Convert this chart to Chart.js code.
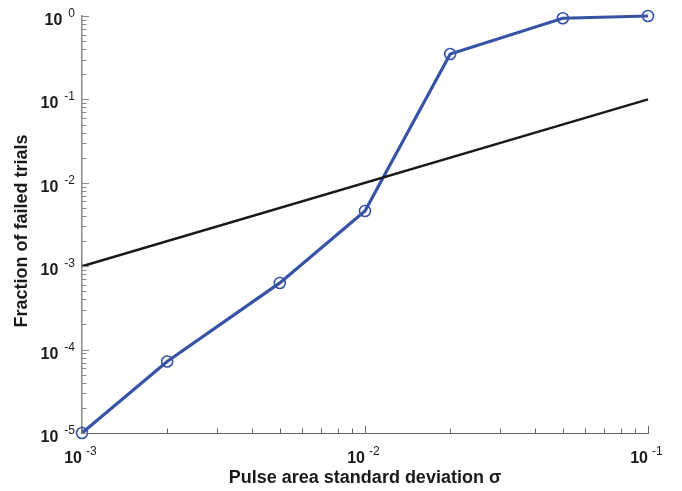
<!DOCTYPE html>
<html>
<head>
<meta charset="utf-8">
<script src="https://cdn.jsdelivr.net/npm/chart.js@4/dist/chart.umd.min.js"></script>
<style>
  html, body { margin: 0; padding: 0; background: #fff; }
  canvas { display: block; }
</style>
</head>
<body>
<canvas id="chart" width="682" height="491"></canvas>
<script>
// Failure fraction vs pulse area standard deviation (log-log)

const sigma = [0.001, 0.002, 0.005, 0.01, 0.02, 0.05, 0.1];
const failFrac = [1.0e-5, 7.2e-5, 6.3e-4, 4.6e-3, 0.35, 0.94, 1.0];

// reference line y = sigma
const refX = [0.001, 0.1];
const refY = [0.001, 0.1];

const xExponents = [-3, -2, -1];
const yExponents = [-5, -4, -3, -2, -1, 0];

const xTitle = 'Pulse area standard deviation σ';
const yTitle = 'Fraction of failed trials';

const BLUE = '#3753a6';
const FONT = '"Liberation Sans", Arial, sans-serif';

function toPoints(xs, ys) {
  return xs.map((x, i) => ({ x: x, y: ys[i] }));
}

// ticks pointing inward + "10^k" labels + axis titles
const axisDecor = {
  id: 'axisDecor',
  afterDraw(chart) {
    const ctx = chart.ctx;
    const area = chart.chartArea;
    const xs = chart.scales.x;
    const ys = chart.scales.y;
    ctx.save();

    // y ticks
    ctx.strokeStyle = '#8a8a8a';
    ctx.lineWidth = 1;
    for (let k = yExponents[0]; k <= yExponents[yExponents.length - 1]; k++) {
      for (let m = 1; m <= 9; m++) {
        if (k === yExponents[yExponents.length - 1] && m > 1) break;
        const py = Math.round(ys.getPixelForValue(m * Math.pow(10, k))) + 0.5;
        const len = m === 1 ? 7 : 4.5;
        ctx.beginPath();
        ctx.moveTo(area.left, py);
        ctx.lineTo(area.left + len, py);
        ctx.stroke();
      }
    }
    // x ticks
    ctx.strokeStyle = '#666';
    for (let k = xExponents[0]; k <= xExponents[xExponents.length - 1]; k++) {
      for (let m = 1; m <= 9; m++) {
        if (k === xExponents[xExponents.length - 1] && m > 1) break;
        const px = Math.round(xs.getPixelForValue(m * Math.pow(10, k))) + 0.5;
        const len = m === 1 ? 7 : 4.5;
        ctx.beginPath();
        ctx.moveTo(px, area.bottom);
        ctx.lineTo(px, area.bottom - len);
        ctx.stroke();
      }
    }

    ctx.fillStyle = '#1a1a1a';
    ctx.textBaseline = 'alphabetic';

    // y labels
    yExponents.forEach(k => {
      const py = ys.getPixelForValue(Math.pow(10, k));
      const exp = String(k);
      ctx.font = '12px ' + FONT;
      const ew = ctx.measureText(exp).width;
      const expRight = area.left - 7;
      ctx.textAlign = 'left';
      ctx.fillText(exp, expRight - ew, py + 1);
      ctx.font = 'bold 16px ' + FONT;
      ctx.textAlign = 'right';
      ctx.fillText('10', expRight - ew - 6, py + 9);
    });

    // x labels
    xExponents.forEach(k => {
      const px = xs.getPixelForValue(Math.pow(10, k));
      ctx.font = 'bold 16px ' + FONT;
      ctx.textAlign = 'right';
      ctx.fillText('10', px, area.bottom + 30);
      ctx.font = '12px ' + FONT;
      ctx.textAlign = 'left';
      ctx.fillText(String(k), px + 4, area.bottom + 22);
    });

    // titles
    ctx.font = 'bold 18px ' + FONT;
    ctx.textAlign = 'center';
    ctx.textBaseline = 'middle';
    ctx.fillText(xTitle, (area.left + area.right) / 2, 478);
    ctx.translate(22, 231);
    ctx.rotate(-Math.PI / 2);
    ctx.fillText(yTitle, 0, 0);

    ctx.restore();
  }
};

new Chart(document.getElementById('chart').getContext('2d'), {
  type: 'scatter',
  data: {
    datasets: [
      {
        data: toPoints(refX, refY),
        showLine: true,
        borderColor: '#1a1a1a',
        borderWidth: 2.5,
        pointRadius: 0,
        clip: false
      },
      {
        data: toPoints(sigma, failFrac),
        showLine: true,
        borderColor: BLUE,
        borderWidth: 3.2,
        pointRadius: 5.5,
        pointBorderWidth: 1.6,
        pointBorderColor: BLUE,
        pointBackgroundColor: 'rgba(0,0,0,0)',
        clip: false
      }
    ]
  },
  options: {
    responsive: false,
    animation: false,
    layout: { padding: { top: 16, right: 34, bottom: 0, left: 0 } },
    plugins: { legend: { display: false }, tooltip: { enabled: false } },
    scales: {
      x: {
        type: 'logarithmic',
        min: 0.001,
        max: 0.1,
        grid: { display: false, drawTicks: false },
        border: { display: true, color: '#666', width: 1 },
        ticks: { display: false },
        afterFit(scale) { scale.height = 58; }
      },
      y: {
        type: 'logarithmic',
        min: 1e-5,
        max: 1,
        grid: { display: false, drawTicks: false },
        border: { display: true, color: '#8a8a8a', width: 1.5 },
        ticks: { display: false },
        afterFit(scale) { scale.width = 82; }
      }
    }
  },
  plugins: [axisDecor]
});
</script>
</body>
</html>
